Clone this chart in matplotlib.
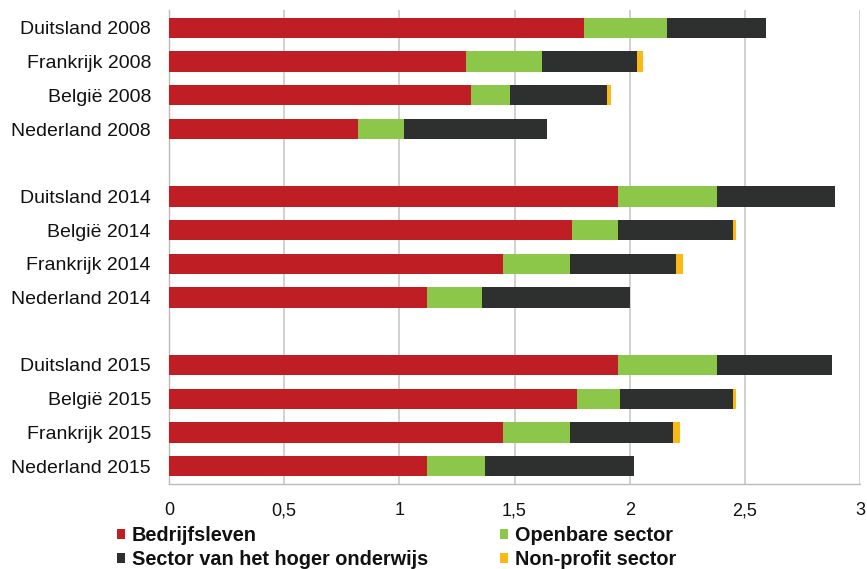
import matplotlib
matplotlib.use("Agg")
import matplotlib.pyplot as plt
import numpy as np

categories = ["Duitsland 2008", "Frankrijk 2008", "België 2008", "Nederland 2008", "",
              "Duitsland 2014", "België 2014", "Frankrijk 2014", "Nederland 2014", "",
              "Duitsland 2015", "België 2015", "Frankrijk 2015", "Nederland 2015"]
bedrijfsleven = [1.80, 1.29, 1.31, 0.82, 0, 1.95, 1.75, 1.45, 1.12, 0, 1.95, 1.77, 1.45, 1.12]
openbare = [0.36, 0.33, 0.17, 0.20, 0, 0.43, 0.20, 0.29, 0.24, 0, 0.43, 0.19, 0.29, 0.25]
hoger_onderwijs = [0.43, 0.41, 0.42, 0.62, 0, 0.51, 0.50, 0.46, 0.64, 0, 0.50, 0.49, 0.45, 0.65]
non_profit = [0.0, 0.03, 0.02, 0.0, 0, 0.0, 0.01, 0.03, 0.0, 0, 0.0, 0.01, 0.03, 0.0]
series_names = ["Bedrijfsleven", "Openbare sector", "Sector van het hoger onderwijs", "Non-profit sector"]
colors = ["#BE1E24", "#8DC74A", "#2E3030", "#FDB913"]
xticks = [0, 0.5, 1, 1.5, 2, 2.5, 3]
xticklabels = ["0", "0,5", "1", "1,5", "2", "2,5", "3"]

plt.rcParams['font.family'] = ['Liberation Sans', 'DejaVu Sans']

fig = plt.figure(figsize=(8.67, 5.69), dpi=100)
ax = fig.add_axes([169/867, 1-484/569, (860-169)/867, (484-10)/569])

y = np.arange(len(categories))
left = np.zeros(len(categories))
handles = []
for vals, name, c in zip([bedrijfsleven, openbare, hoger_onderwijs, non_profit], series_names, colors):
    v = np.array(vals, dtype=float)
    h = ax.barh(y, v, left=left, height=0.6, color=c, label=name, edgecolor='none', zorder=3)
    handles.append(h)
    left = left + v

ax.set_ylim(len(categories) - 0.47, -0.53)
ax.set_xlim(0, 3)
ax.set_yticks(y)
ax.set_yticklabels(categories, fontsize=14, color='#111111')
ax.set_xticks(xticks)
ax.set_xticklabels(xticklabels, fontsize=13, color='#111111')
ax.tick_params(axis='both', length=0)
ax.tick_params(axis='x', pad=13)
ax.tick_params(axis='y', pad=13)
ax.grid(axis='x', color='#C8C8C8', linewidth=1.2, zorder=0)
for s in ['top', 'right']:
    ax.spines[s].set_visible(False)
for s in ['left', 'bottom']:
    ax.spines[s].set_color('#BBBBBB')
    ax.spines[s].set_linewidth(1.0)

order = [0, 2, 1, 3]
leg = fig.legend([handles[i] for i in order], [series_names[i] for i in order],
                 loc='upper left', bbox_to_anchor=(117/867, 1-526/569),
                 ncol=2, frameon=False, borderpad=0, borderaxespad=0,
                 handlelength=0.4, handleheight=0.4, handletextpad=0.36,
                 columnspacing=3.6, labelspacing=0.26,
                 prop={'weight': 'bold', 'size': 14.3})
for t in leg.get_texts():
    t.set_color('#111111')

fig.savefig("out.png", dpi=100)
